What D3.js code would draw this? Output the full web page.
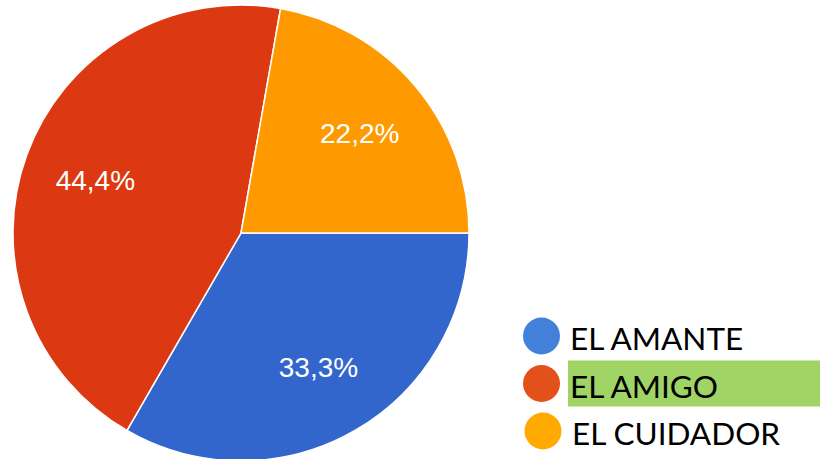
<!DOCTYPE html>
<html>
<head>
<meta charset="utf-8">
<script src="https://cdn.jsdelivr.net/npm/d3@7"></script>
<style>
  body { margin: 0; background: #fff; }
  svg { display: block; }
</style>
</head>
<body>
<script>
const labels = ['EL AMANTE', 'EL AMIGO', 'EL CUIDADOR'];
const values = [33.3, 44.4, 22.2];
const sliceColors = ['#3366cc', '#dc3912', '#ff9900'];
const legendColors = ['#4280da', '#e45019', '#ffaa00'];

const width = 820,
    height = 459;

var cx = 241, cy = 233, radius = 228;

var svg = d3.select('body').append('svg')
    .attr('width', width)
    .attr('height', height);

var pie = d3.pie()
    .sort(null)
    .value(function(d) { return d; })
    .startAngle(Math.PI / 2)
    .endAngle(Math.PI / 2 + 2 * Math.PI);

var arc = d3.arc().innerRadius(0).outerRadius(radius);
var labelArc = d3.arc().innerRadius(155).outerRadius(155);

var g = svg.append('g')
    .attr('transform', 'translate(' + cx + ',' + cy + ')');

var slices = g.selectAll('.slice')
    .data(pie(values))
    .enter().append('g')
    .attr('class', 'slice');

slices.append('path')
    .attr('d', arc)
    .attr('fill', function(d, i) { return sliceColors[i]; })
    .attr('stroke', '#fff')
    .attr('stroke-width', 1.5);

// percentage labels
slices.append('text')
    .attr('transform', function(d) { return 'translate(' + labelArc.centroid(d) + ')'; })
    .attr('text-anchor', 'middle')
    .attr('dy', '0.36em')
    .attr('fill', '#fff')
    .style('font-family', 'Arial, "Liberation Sans", sans-serif')
    .style('font-size', '28px')
    .text(function(d) { return d.data.toFixed(1).replace('.', ',') + '%'; });

// legend
var y = d3.scalePoint().domain(labels).range([336, 431]);

var legend = svg.append('g');

legend.append('rect')
    .attr('x', 568)
    .attr('y', y(labels[1]) - 23)
    .attr('width', width - 568)
    .attr('height', 46)
    .attr('fill', '#a0d565');

var item = legend.selectAll('.item')
    .data(labels)
    .enter().append('g')
    .attr('class', 'item');

item.append('circle')
    .attr('cx', function(d, i) { return i == 2 ? 543 : 541.5; })
    .attr('cy', function(d) { return y(d); })
    .attr('r', 18.5)
    .attr('fill', function(d, i) { return legendColors[i]; });

item.append('text')
    .attr('x', function(d, i) { return i == 2 ? 572 : 570; })
    .attr('y', function(d) { return y(d) + 14; })
    .attr('fill', '#000')
    .style('font-family', 'Lato, "Open Sans", sans-serif')
    .style('font-size', '31.5px')
    .text(function(d) { return d; });
</script>
</body>
</html>
